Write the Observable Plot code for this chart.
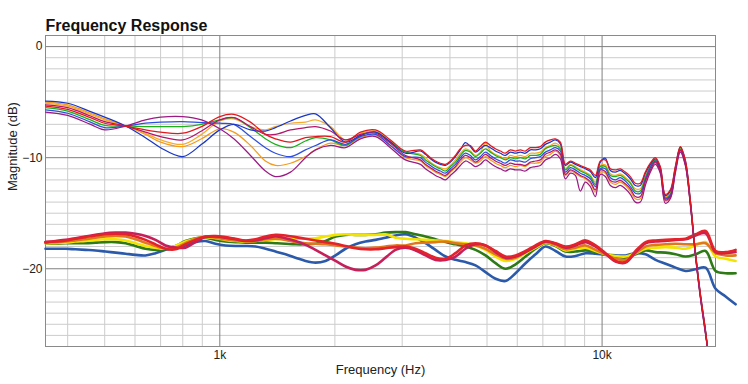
<!DOCTYPE html>
<html>
<head>
<meta charset="utf-8">
<script src="https://cdn.jsdelivr.net/npm/d3@7"></script>
<script src="https://cdn.jsdelivr.net/npm/@observablehq/plot@0.6"></script>
<style>
  html, body { margin: 0; padding: 0; background: #fff; }
  #chart { width: 748px; height: 384px; }
</style>
</head>
<body>
<div id="chart"></div>
<script>
// ---------- tick / grid values ----------
const xMajorTicks = [1000, 10000];
const xMinorTicks = [400, 500, 600, 700, 800, 900, 2000, 3000, 4000, 5000, 6000, 7000, 8000, 9000];
const yMajorTicks = [0, -10, -20];
const yMinorTicks = [-26, -25, -24, -23, -22, -21, -19, -18, -17, -16, -15, -14, -13, -12, -11, -9, -8, -7, -6, -5, -4, -3, -2, -1];

// ---------- upper group (thin lines) ----------
const upperFreq = [350, 400, 459, 500, 567, 639, 700, 800, 896, 1000, 1088, 1203, 1316, 1398, 1531, 1675, 1780, 1948, 2132, 2333, 2554, 2795, 3059,
  3348, 3450, 3556, 3664, 3776, 3892, 4011, 4133, 4259, 4390, 4524, 4662, 4805, 4951, 5103, 5259, 5419, 5585, 5756, 5931, 6113, 6300, 6492, 6691, 6895, 7106, 7323, 7547, 7777, 8015, 8260, 8512, 8772, 9040, 9317, 9601, 9895, 10197, 10509, 10830, 11161, 11502, 11854, 12216, 12589, 12974, 13371, 13779, 14200, 14634, 15082, 15543, 16018, 16507, 17012, 17532, 18068, 18620, 18900];

const upRed = [-5.35, -5.65, -6.4, -6.9, -7.15, -7.5, -7.7, -7.8, -7.2, -6.3, -6.1, -6.8, -7.9, -8.3, -8.6, -8.2, -8.1, -8.1, -8.6, -7.7, -7.5, -8.4, -9.4,
  -9.3, -9.6, -10.0, -10.3, -10.5, -10.6, -10.3, -9.8, -9.2, -8.9, -8.9, -9.4, -9.0, -8.6, -8.9, -9.2, -9.4, -9.6, -9.3, -9.4, -9.3, -9.4, -9.1, -9.1, -9.0, -8.6, -8.4, -8.3, -8.6, -10.6, -10.3, -10.5, -10.7, -10.9, -11.1, -11.6, -10.3, -10.2, -11.0, -11.1, -11.0, -11.3, -11.7, -12.3, -12.3, -11.3, -10.5, -10.0, -10.8, -13.3, -12.9, -10.8, -9.0, -10.2, -13.8, -18.4, -22.2, -25.4, -27.3];
const upBlueA = [-4.9, -5.1, -5.85, -6.35, -7.15, -8.2, -9.1, -9.9, -8.8, -7.5, -7.0, -7.5, -7.6, -7.3, -6.7, -6.2, -6.05, -7.3, -8.6, -8.0, -7.7, -8.6, -9.6,
  -9.4, -9.7, -10.1, -10.4, -10.6, -10.7, -10.4, -9.9, -9.3, -8.65, -9.0, -9.5, -9.2, -8.9, -9.1, -9.4, -9.6, -9.8, -9.5, -9.6, -9.5, -9.6, -9.3, -9.3, -9.2, -8.8, -8.6, -8.4, -8.75, -10.7, -10.4, -10.6, -10.8, -11.0, -11.25, -11.8, -10.4, -10.05, -11.15, -11.3, -11.15, -11.45, -11.9, -12.5, -12.5, -11.4, -10.6, -10.1, -10.9, -13.4, -13.0, -10.9, -9.05, -10.25, -13.85, -18.45, -22.25, -25.45, -27.3];
const upOrange1 = [-5.1, -5.35, -6.1, -6.6, -7.15, -7.8, -8.4, -8.8, -7.9, -6.7, -6.5, -7.2, -7.5, -7.2, -6.9, -6.8, -6.6, -7.2, -8.4, -7.8, -7.6, -8.5, -9.5,
  -9.7, -10.0, -10.4, -10.7, -10.9, -11.0, -10.7, -10.2, -9.6, -9.2, -9.4, -9.8, -9.5, -8.7, -9.4, -9.7, -9.9, -10.1, -9.8, -9.9, -9.8, -9.9, -9.6, -9.6, -9.5, -9.1, -8.9, -8.7, -9.05, -11.0, -10.6, -10.8, -11.1, -11.3, -11.55, -12.2, -10.7, -10.65, -11.45, -11.6, -11.45, -11.75, -12.2, -12.8, -12.8, -11.7, -10.7, -10.2, -11.0, -13.5, -13.2, -11.0, -9.15, -10.35, -13.9, -18.5, -22.3, -25.5, -27.3];
const upGreen = [-5.5, -5.8, -6.6, -7.1, -7.15, -7.2, -7.2, -7.2, -7.0, -6.6, -6.4, -7.3, -8.3, -8.8, -9.1, -8.5, -8.2, -8.4, -8.9, -8.0, -7.7, -8.6, -9.5,
  -9.8, -10.2, -10.5, -10.8, -11.0, -11.2, -10.8, -10.4, -9.8, -9.35, -9.5, -9.9, -9.6, -9.2, -9.5, -9.8, -10.0, -10.2, -10.0, -10.1, -10.0, -10.1, -9.8, -9.8, -9.7, -9.2, -9.0, -8.9, -9.2, -11.1, -10.7, -10.9, -11.2, -11.4, -11.7, -12.4, -10.8, -10.8, -11.6, -11.7, -11.6, -11.9, -12.3, -13.0, -13.0, -11.8, -10.8, -10.25, -11.05, -13.6, -13.3, -11.05, -9.2, -10.4, -14.0, -18.55, -22.35, -25.55, -27.3];
const upBlueB = [-5.7, -6.0, -6.8, -7.3, -7.15, -6.9, -6.8, -6.75, -6.85, -6.9, -7.0, -8.1, -9.1, -9.6, -9.9, -9.3, -8.9, -8.4, -8.8, -8.1, -7.9, -8.9, -9.9,
  -10.0, -10.4, -10.7, -11.0, -11.2, -11.4, -11.0, -10.6, -10.0, -9.6, -9.8, -10.2, -9.9, -9.5, -9.8, -10.1, -10.3, -10.5, -10.2, -10.3, -10.3, -10.4, -10.1, -10.0, -9.9, -9.5, -9.3, -9.1, -9.4, -11.3, -10.9, -11.1, -11.4, -11.6, -11.9, -12.6, -11.0, -11.0, -11.8, -12.0, -11.8, -12.1, -12.6, -13.2, -13.2, -12.0, -10.9, -10.3, -11.1, -13.7, -13.4, -11.1, -9.3, -10.5, -14.05, -18.6, -22.4, -25.6, -27.3];
const upPurple = [-5.25, -5.5, -6.25, -6.75, -7.15, -7.7, -8.1, -8.4, -7.6, -6.6, -6.4, -7.2, -7.9, -7.9, -7.5, -7.3, -7.2, -7.6, -8.4, -7.9, -7.8, -8.7, -9.8,
  -10.2, -10.6, -10.9, -11.2, -11.4, -11.6, -11.2, -10.8, -10.2, -9.8, -10.0, -10.4, -10.1, -9.7, -10.0, -10.3, -10.5, -10.7, -10.5, -10.6, -10.6, -10.7, -10.4, -10.3, -10.2, -9.7, -9.5, -9.3, -9.65, -11.5, -11.1, -11.3, -11.6, -11.8, -12.15, -12.9, -11.1, -11.25, -12.05, -12.2, -12.05, -12.35, -12.8, -13.5, -13.5, -12.1, -11.1, -10.4, -11.2, -13.8, -13.5, -11.2, -9.35, -10.55, -14.1, -18.65, -22.45, -25.65, -27.3];
const upOrange2 = [-5.0, -5.25, -6.0, -6.5, -7.15, -7.9, -8.6, -9.0, -8.3, -7.4, -7.7, -8.9, -10.3, -10.7, -10.5, -9.9, -9.3, -8.7, -8.9, -8.2, -8.0, -8.9, -10.0,
  -10.3, -10.7, -11.0, -11.3, -11.5, -11.7, -11.3, -10.9, -10.4, -10.0, -10.2, -10.5, -10.3, -9.9, -10.2, -10.5, -10.7, -10.9, -10.7, -10.8, -10.7, -10.8, -10.5, -10.5, -10.4, -9.9, -9.7, -9.4, -9.8, -11.6, -11.2, -11.4, -11.7, -11.9, -12.3, -13.1, -11.3, -11.4, -12.2, -12.4, -12.2, -12.5, -13.0, -13.7, -13.7, -12.3, -11.1, -10.5, -11.3, -13.9, -13.6, -11.3, -9.4, -10.6, -14.15, -18.7, -22.5, -25.7, -27.3];
const upMagenta = [-5.9, -6.2, -7.0, -7.5, -7.15, -6.6, -6.35, -6.3, -6.6, -7.4, -8.3, -9.8, -11.2, -11.7, -11.3, -10.0, -9.3, -8.9, -9.1, -8.3, -8.1, -9.1, -10.2,
  -10.6, -11.0, -11.3, -11.6, -11.8, -12.0, -11.6, -11.2, -10.7, -10.3, -10.5, -10.8, -10.6, -10.2, -10.5, -10.8, -11.0, -11.2, -11.0, -11.1, -11.1, -11.2, -10.9, -10.8, -10.7, -10.2, -10.0, -9.7, -10.1, -11.9, -11.4, -11.6, -13.0, -12.2, -12.6, -13.5, -11.5, -11.7, -12.5, -12.7, -12.5, -12.8, -13.3, -14.0, -14.0, -12.5, -11.3, -10.6, -11.4, -14.1, -13.7, -11.4, -9.5, -10.7, -14.2, -18.75, -22.55, -25.75, -27.3];

// ---------- lower group (thick lines) ----------
const lowerFreq = [350, 372, 395, 419, 445, 473, 502, 534, 567, 602, 639, 679, 721, 766, 813, 864, 917, 974, 1035, 1099, 1167, 1240, 1317, 1399, 1486, 1578, 1676, 1780, 1890, 2008, 2132, 2265, 2405, 2555, 2713, 2882, 3061, 3251, 3453, 3667, 3895, 4136, 4393, 4666, 4956, 5264, 5590, 5938, 6306, 6698, 7114, 7556, 8025, 8523, 9052, 9614, 10211, 10845, 11519, 12234, 12994, 13800, 14657, 15567, 16534, 17561, 18651, 19810, 21040, 22347];

const lowBlue = [-18.2, -18.2, -18.2, -18.25, -18.3, -18.35, -18.45, -18.55, -18.65, -18.75, -18.8, -18.6, -18.3, -18.1, -17.9, -17.6, -17.5, -17.75, -17.9, -17.95, -17.95, -18.0, -18.2, -18.45, -18.7, -19.0, -19.3, -19.45, -19.3, -18.8, -18.2, -17.8, -17.55, -17.4, -17.2, -17.0, -16.9, -17.2, -17.7, -18.3, -18.9, -19.2, -19.4, -19.7, -20.3, -20.9, -21.1, -20.4, -19.5, -18.7, -18.0, -18.4, -18.9, -18.85, -18.6, -18.65, -18.75, -18.8, -18.8, -18.6, -18.7, -19.2, -19.55, -19.9, -20.2, -20.05, -19.9, -21.8, -22.5, -23.2];
const lowGreen = [-17.7, -17.75, -17.7, -17.7, -17.7, -17.65, -17.6, -17.6, -17.7, -17.95, -18.2, -18.3, -18.25, -17.95, -17.5, -17.25, -17.2, -17.4, -17.55, -17.6, -17.65, -17.65, -17.65, -17.7, -17.75, -17.8, -17.8, -17.75, -17.5, -17.1, -16.95, -16.95, -16.95, -16.9, -16.75, -16.7, -16.7, -16.9, -17.1, -17.35, -17.6, -17.8, -18.0, -18.3, -18.8, -19.5, -20.0, -19.6, -18.9, -18.2, -17.7, -17.95, -18.45, -18.45, -18.35, -18.5, -18.7, -18.9, -19.0, -18.7, -18.35, -18.5, -18.55, -18.7, -18.9, -18.7, -18.4, -20.2, -20.4, -20.4];
const lowYellow = [-17.7, -17.7, -17.65, -17.55, -17.5, -17.4, -17.35, -17.35, -17.45, -17.7, -17.95, -18.1, -18.2, -17.95, -17.55, -17.3, -17.15, -17.25, -17.4, -17.5, -17.55, -17.5, -17.4, -17.35, -17.3, -17.3, -17.3, -17.25, -17.1, -16.95, -16.9, -16.95, -16.95, -16.95, -16.9, -17.2, -17.3, -17.35, -17.4, -17.45, -17.5, -17.6, -17.7, -17.9, -18.3, -18.9, -19.3, -19.1, -18.6, -18.1, -17.65, -17.9, -18.35, -18.2, -18.1, -18.4, -18.7, -18.85, -18.9, -18.6, -18.2, -18.1, -18.05, -18.1, -18.2, -17.9, -17.6, -18.9, -19.1, -19.3];
const lowOrange = [-17.65, -17.6, -17.55, -17.45, -17.35, -17.2, -17.1, -17.05, -17.1, -17.35, -17.65, -17.95, -18.2, -18.1, -17.7, -17.3, -17.1, -17.2, -17.35, -17.45, -17.5, -17.5, -17.35, -17.3, -17.4, -17.6, -17.7, -17.75, -17.8, -17.9, -18.0, -18.1, -18.15, -18.1, -18.0, -17.9, -17.9, -17.7, -17.65, -17.6, -17.55, -17.7, -17.8, -17.9, -18.2, -18.7, -19.1, -19.0, -18.5, -18.0, -17.6, -17.85, -18.25, -18.1, -17.9, -18.3, -18.7, -19.1, -19.2, -18.6, -18.0, -17.85, -17.8, -17.75, -17.8, -17.8, -17.7, -18.6, -18.8, -18.8];
const lowCrimson = [-17.6, -17.5, -17.4, -17.25, -17.1, -16.95, -16.8, -16.75, -16.75, -16.85, -17.05, -17.4, -17.9, -18.1, -18.1, -17.6, -17.15, -17.1, -17.2, -17.35, -17.5, -17.45, -17.25, -17.1, -17.25, -17.5, -17.85, -18.3, -18.8, -19.3, -19.8, -20.1, -20.1, -19.7, -19.0, -18.3, -18.1, -18.35, -18.8, -19.2, -19.2, -18.9, -18.2, -17.8, -17.9, -18.5, -19.0, -18.9, -18.5, -18.0, -17.55, -17.75, -18.1, -17.9, -17.6, -18.0, -18.65, -19.35, -19.45, -18.5, -17.7, -17.55, -17.5, -17.4, -17.35, -17.0, -16.8, -18.5, -18.6, -18.5];
const lowRed = [-17.6, -17.55, -17.45, -17.3, -17.15, -17.0, -16.9, -16.85, -16.9, -17.1, -17.4, -17.8, -18.2, -18.25, -17.8, -17.4, -17.1, -17.05, -17.15, -17.3, -17.45, -17.35, -17.1, -16.95, -17.0, -17.15, -17.3, -17.45, -17.6, -17.75, -17.95, -18.15, -18.25, -18.25, -18.15, -18.05, -18.0, -18.2, -18.6, -19.0, -19.1, -18.6, -17.9, -17.7, -17.9, -18.4, -18.9, -18.8, -18.4, -17.9, -17.5, -17.7, -18.0, -17.8, -17.45, -17.9, -18.6, -19.3, -19.4, -18.4, -17.6, -17.45, -17.4, -17.35, -17.3, -16.9, -16.6, -18.4, -18.5, -18.3];

// ---------- series definitions ----------
const lowerSeries = [
  {values: lowBlue, color: "#2b5aab"},
  {values: lowGreen, color: "#2e7a16"},
  {values: lowYellow, color: "#f2e400"},
  {values: lowOrange, color: "#e0761e"},
  {values: lowCrimson, color: "#c61f5a"},
  {values: lowRed, color: "#e3222a"}
];
const upperSeries = [
  {values: upOrange2, color: "#f29b1d"},
  {values: upOrange1, color: "#f7a92a"},
  {values: upGreen, color: "#1cb01c"},
  {values: upBlueB, color: "#2c4fe0"},
  {values: upBlueA, color: "#1836c8"},
  {values: upPurple, color: "#b3186c"},
  {values: upMagenta, color: "#9c1a84"},
  {values: upRed, color: "#e3171c"}
];

const toRows = (freqs, vals) => freqs.map((f, i) => ({f, v: vals[i]})).filter(d => d.v !== undefined);

const lineMarks = [];
for (const s of lowerSeries) {
  lineMarks.push(Plot.line(toRows(lowerFreq, s.values), {x: "f", y: "v", stroke: s.color, strokeWidth: 2.6, curve: "catmull-rom"}));
}
for (const s of upperSeries) {
  lineMarks.push(Plot.line(toRows(upperFreq, s.values), {x: "f", y: "v", stroke: s.color, strokeWidth: 1.25, curve: "catmull-rom", clip: true}));
}

const chart = Plot.plot({
  width: 748,
  height: 384,
  marginLeft: 45,
  marginRight: 33,
  marginTop: 35,
  marginBottom: 38,
  x: {type: "log", domain: [350, 19800]},
  y: {domain: [-27, 1]},
  style: {fontFamily: "'Liberation Sans', Arial, Helvetica, sans-serif", fontSize: "12px", background: "white", color: "#222", overflow: "visible"},
  marks: [
    Plot.ruleX(xMinorTicks, {stroke: "#cccccc", strokeWidth: 1}),
    Plot.ruleY(yMinorTicks, {stroke: "#cccccc", strokeWidth: 1}),
    Plot.ruleX(xMajorTicks, {stroke: "#808080", strokeWidth: 1}),
    Plot.ruleY(yMajorTicks, {stroke: "#808080", strokeWidth: 1}),
    Plot.frame({stroke: "#8a8a8a"}),
    Plot.axisY(yMajorTicks, {tickSize: 0, tickPadding: 3, fontSize: 12, label: null}),
    Plot.axisX(xMajorTicks, {tickSize: 0, tickPadding: 4, fontSize: 12, label: null, tickFormat: d => (d / 1000) + "k"}),
    ...lineMarks,
    Plot.text(["Frequency Response"], {text: d => d, frameAnchor: "top-left", textAnchor: "start", lineAnchor: "middle", dy: -10, fontSize: 16, fontWeight: "bold", fill: "#111"}),
    Plot.text(["Magnitude (dB)"], {text: d => d, frameAnchor: "left", dx: -33, rotate: -90, fontSize: 13, fill: "#222"}),
    Plot.text(["Frequency (Hz)"], {text: d => d, frameAnchor: "bottom", lineAnchor: "middle", dy: 23, fontSize: 13, fill: "#222"})
  ]
});
document.getElementById("chart").appendChild(chart);
</script>
</body>
</html>
